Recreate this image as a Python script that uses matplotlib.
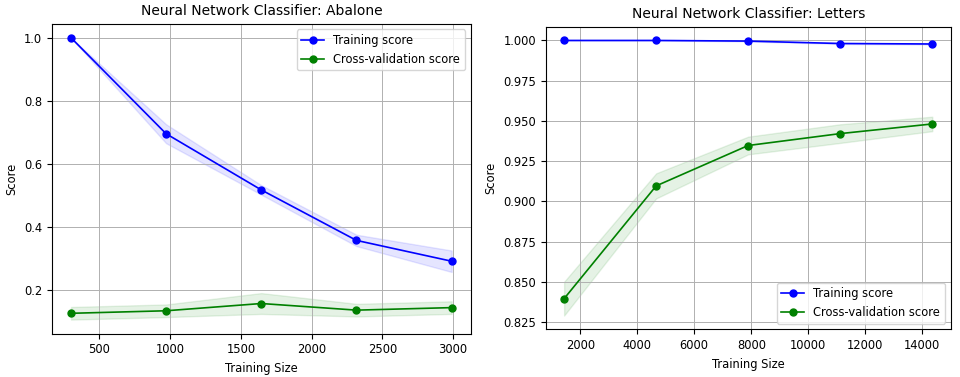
import numpy as np
import matplotlib
matplotlib.use("Agg")
import matplotlib.pyplot as plt

# Abalone learning curve
abalone_sizes = [299, 971, 1644, 2317, 2990]
abalone_train = [1.000, 0.696, 0.518, 0.358, 0.292]
abalone_train_std = [0.0, 0.030, 0.015, 0.018, 0.034]
abalone_cv = [0.127, 0.135, 0.158, 0.137, 0.145]
abalone_cv_std = [0.020, 0.020, 0.033, 0.020, 0.020]

# Letters learning curve
letters_sizes = [1435, 4664, 7892, 11121, 14350]
letters_train = [1.0000, 1.0000, 0.9996, 0.9981, 0.9978]
letters_train_std = [0.0, 0.0, 0.0002, 0.0003, 0.0003]
letters_cv = [0.8395, 0.9096, 0.9347, 0.9421, 0.9481]
letters_cv_std = [0.0105, 0.0078, 0.0055, 0.0058, 0.0045]

plt.rcParams['font.size'] = 8.3

W, H = 960, 377
fig = plt.figure(figsize=(W / 100, H / 100), dpi=100)


def curve(ax, title, sizes, tr, tr_std, cv, cv_std, loc):
    sizes = np.array(sizes)
    tr, tr_std = np.array(tr), np.array(tr_std)
    cv, cv_std = np.array(cv), np.array(cv_std)
    ax.set_title(title, fontsize=10)
    ax.set_xlabel("Training Size")
    ax.set_ylabel("Score")
    ax.grid(True, linewidth=0.7)
    ax.fill_between(sizes, tr - tr_std, tr + tr_std, alpha=0.1, color="b")
    ax.fill_between(sizes, cv - cv_std, cv + cv_std, alpha=0.1, color="g")
    ax.plot(sizes, tr, 'o-', color="b", label="Training score", lw=1.2, ms=5)
    ax.plot(sizes, cv, 'o-', color="g", label="Cross-validation score", lw=1.2, ms=5)
    ax.legend(loc=loc)


ax1 = fig.add_axes([52 / W, (H - 333.7) / H, (470.7 - 52) / W, (333.7 - 23.7) / H])
curve(ax1, "Neural Network Classifier: Abalone", abalone_sizes, abalone_train,
      abalone_train_std, abalone_cv, abalone_cv_std, "upper right")

ax2 = fig.add_axes([545.7 / W, (H - 329.3) / H, (950.7 - 545.7) / W, (329.3 - 26.7) / H])
curve(ax2, "Neural Network Classifier: Letters", letters_sizes, letters_train,
      letters_train_std, letters_cv, letters_cv_std, "lower right")

fig.savefig("out.png", dpi=100)
